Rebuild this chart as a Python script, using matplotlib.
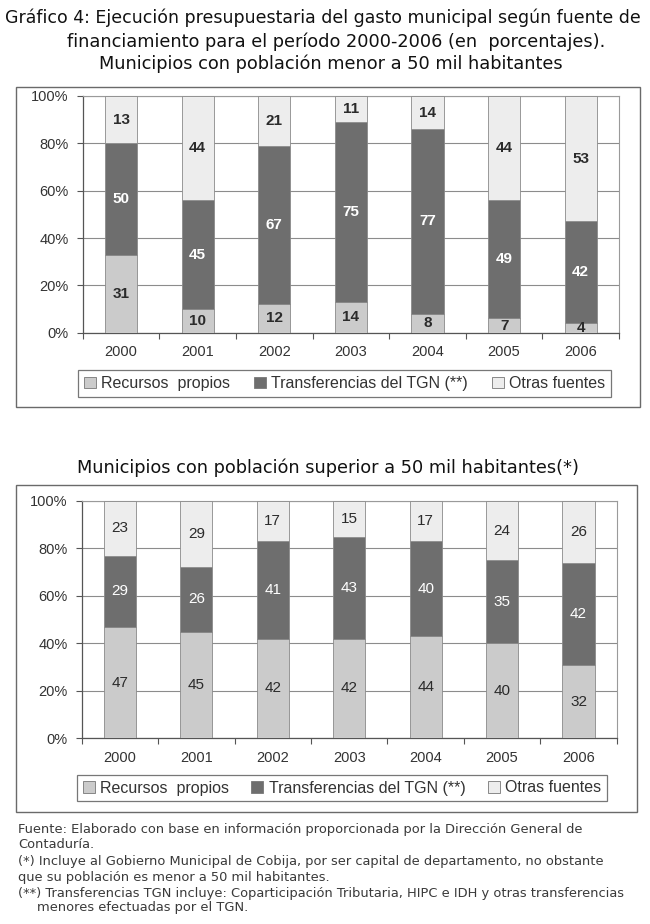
import matplotlib
matplotlib.use("Agg")
import matplotlib.pyplot as plt
from matplotlib.patches import Rectangle, Patch
import numpy as np

# ---------------- data ----------------
years = ["2000", "2001", "2002", "2003", "2004", "2005", "2006"]
series_names = ["Recursos  propios", "Transferencias del TGN (**)", "Otras fuentes"]

# chart 1: municipios < 50 mil (bar heights as drawn, % )
rec_menor = [33, 10, 12, 13, 8, 6, 4]
tgn_menor = [47, 46, 67, 76, 78, 50, 43]
otr_menor = [20, 44, 21, 11, 14, 44, 53]
# printed labels
rec_menor_lbl = [31, 10, 12, 14, 8, 7, 4]
tgn_menor_lbl = [50, 45, 67, 75, 77, 49, 42]
otr_menor_lbl = [13, 44, 21, 11, 14, 44, 53]

# chart 2: municipios > 50 mil
rec_mayor = [47, 45, 42, 42, 43, 40, 31]
tgn_mayor = [30, 27, 41, 43, 40, 35, 43]
otr_mayor = [23, 28, 17, 15, 17, 25, 26]
rec_mayor_lbl = [47, 45, 42, 42, 44, 40, 32]
tgn_mayor_lbl = [29, 26, 41, 43, 40, 35, 42]
otr_mayor_lbl = [23, 29, 17, 15, 17, 24, 26]

yticks = [0, 20, 40, 60, 80, 100]
ytick_labels = ["0%", "20%", "40%", "60%", "80%", "100%"]

# ---------------- style ----------------
W, H = 650, 924
C_REC = "#cbcbcb"
C_TGN = "#6e6e6e"
C_OTR = "#ededed"
EDGE = "#8a8a8a"
GRID = "#8c8c8c"
TXT = "#2b2b2b"
CHART_FONT = ["Liberation Sans", "DejaVu Sans"]
TITLE_FONT = ["DejaVu Sans"]

fig = plt.figure(figsize=(W / 100, H / 100), dpi=100)
fig.patch.set_facecolor("white")


def px_axes(left, top, right, bottom):
    return fig.add_axes([left / W, 1 - bottom / H, (right - left) / W, (bottom - top) / H])


def frame(left, top, right, bottom):
    fig.patches.append(Rectangle((left / W, 1 - bottom / H), (right - left) / W, (bottom - top) / H,
                                 transform=fig.transFigure, fill=False, edgecolor="#6a6a6a",
                                 linewidth=1.0))


def draw_chart(ax, rec, tgn, otr, lrec, ltgn, lotr, bold, legend_box):
    x = np.arange(len(years))
    w = 0.42
    rec = np.array(rec, float)
    tgn = np.array(tgn, float)
    otr = np.array(otr, float)
    ax.bar(x, rec, w, color=C_REC, edgecolor=EDGE, linewidth=0.6, zorder=3)
    ax.bar(x, tgn, w, bottom=rec, color=C_TGN, edgecolor=EDGE, linewidth=0.6, zorder=3)
    ax.bar(x, otr, w, bottom=rec + tgn, color=C_OTR, edgecolor=EDGE, linewidth=0.6, zorder=3)
    fw = "bold" if bold else "normal"
    fs = 11
    for i in range(len(x)):
        ax.text(x[i], rec[i] / 2, str(lrec[i]), ha="center", va="center", fontsize=fs,
                fontweight=fw, color=TXT, family=CHART_FONT, zorder=4)
        ax.text(x[i], rec[i] + tgn[i] / 2, str(ltgn[i]), ha="center", va="center", fontsize=fs,
                fontweight=fw, color="white", family=CHART_FONT, zorder=4)
        ax.text(x[i], rec[i] + tgn[i] + otr[i] / 2, str(lotr[i]), ha="center", va="center",
                fontsize=fs, fontweight=fw, color=TXT, family=CHART_FONT, zorder=4)
    ax.set_xlim(-0.5, len(x) - 0.5)
    ax.set_ylim(0, 100)
    ax.set_yticks(yticks)
    ax.set_yticklabels(ytick_labels, family=CHART_FONT, fontsize=10.5, color="#333333")
    ax.set_xticks(x)
    ax.set_xticklabels(years, family=CHART_FONT, fontsize=10.5, color="#333333")
    ax.set_xticks(np.arange(-0.5, len(x), 1.0), minor=True)
    ax.tick_params(axis="x", which="major", length=0, pad=9)
    ax.tick_params(axis="x", which="minor", length=4, direction="out", color="#555555", width=0.8)
    ax.tick_params(axis="y", length=4, direction="out", color="#555555", width=0.8, pad=6)
    ax.yaxis.grid(True, color=GRID, linewidth=0.8, zorder=0)
    ax.set_axisbelow(True)
    for s in ["top", "right"]:
        ax.spines[s].set_color("#9a9a9a")
        ax.spines[s].set_linewidth(0.8)
    for s in ["left", "bottom"]:
        ax.spines[s].set_color("#555555")
        ax.spines[s].set_linewidth(0.9)
    handles = [Patch(facecolor=C_REC, edgecolor="#777777", linewidth=0.6),
               Patch(facecolor=C_TGN, edgecolor="#777777", linewidth=0.6),
               Patch(facecolor=C_OTR, edgecolor="#777777", linewidth=0.6)]
    l, t, r, b = legend_box
    leg = fig.legend(handles, series_names, loc="center",
                     bbox_to_anchor=(l / W, 1 - b / H, (r - l) / W, (b - t) / H),
                     ncol=3, mode="expand", frameon=True, fancybox=False,
                     handlelength=0.75, handleheight=0.75, handletextpad=0.35,
                     columnspacing=1.0, borderaxespad=0.0, borderpad=0.35,
                     prop={"family": CHART_FONT, "size": 11.5})
    leg.get_frame().set_edgecolor("#555555")
    leg.get_frame().set_linewidth(0.9)
    for t_ in leg.get_texts():
        t_.set_color("#333333")


# ---------------- titles ----------------
TFS = 12.8
fig.text(5 / W, 1 - 18 / H, "Gráfico 4: Ejecución presupuestaria del gasto municipal según fuente de",
         ha="left", va="center", fontsize=12.5, family=TITLE_FONT, color="#111111")
fig.text(336 / W, 1 - 42 / H, "financiamiento para el período 2000-2006 (en  porcentajes).",
         ha="center", va="center", fontsize=TFS, family=TITLE_FONT, color="#111111")
fig.text(331 / W, 1 - 64 / H, "Municipios con población menor a 50 mil habitantes",
         ha="center", va="center", fontsize=TFS, family=TITLE_FONT, color="#111111")
fig.text(328 / W, 1 - 468 / H, "Municipios con población superior a 50 mil habitantes(*)",
         ha="center", va="center", fontsize=TFS, family=TITLE_FONT, color="#111111")

# ---------------- chart 1 ----------------
frame(15.5, 87, 640, 407)
ax1 = px_axes(82.7, 96, 619, 332.7)
draw_chart(ax1, rec_menor, tgn_menor, otr_menor, rec_menor_lbl, tgn_menor_lbl, otr_menor_lbl,
           True, (78, 369, 611, 398))

# ---------------- chart 2 ----------------
frame(15.5, 485, 637, 812)
ax2 = px_axes(81.7, 501, 616.7, 738.3)
draw_chart(ax2, rec_mayor, tgn_mayor, otr_mayor, rec_mayor_lbl, tgn_mayor_lbl, otr_mayor_lbl,
           False, (77, 773, 607, 803))

# ---------------- notes ----------------
notes = [
    (18, 830, "Fuente: Elaborado con base en información proporcionada por la Dirección General de"),
    (18, 845, "Contaduría."),
    (18, 862, "(*) Incluye al Gobierno Municipal de Cobija, por ser capital de departamento, no obstante"),
    (18, 877, "que su población es menor a 50 mil habitantes."),
    (18, 893, "(**) Transferencias TGN incluye: Coparticipación Tributaria, HIPC e IDH y otras transferencias"),
    (37, 908, "menores efectuadas por el TGN."),
]
for xp, yp, s in notes:
    fig.text(xp / W, 1 - yp / H, s, ha="left", va="center", fontsize=9.35,
             family=TITLE_FONT, color="#3a3a3a")

fig.savefig("out.png", dpi=100, facecolor="white")
